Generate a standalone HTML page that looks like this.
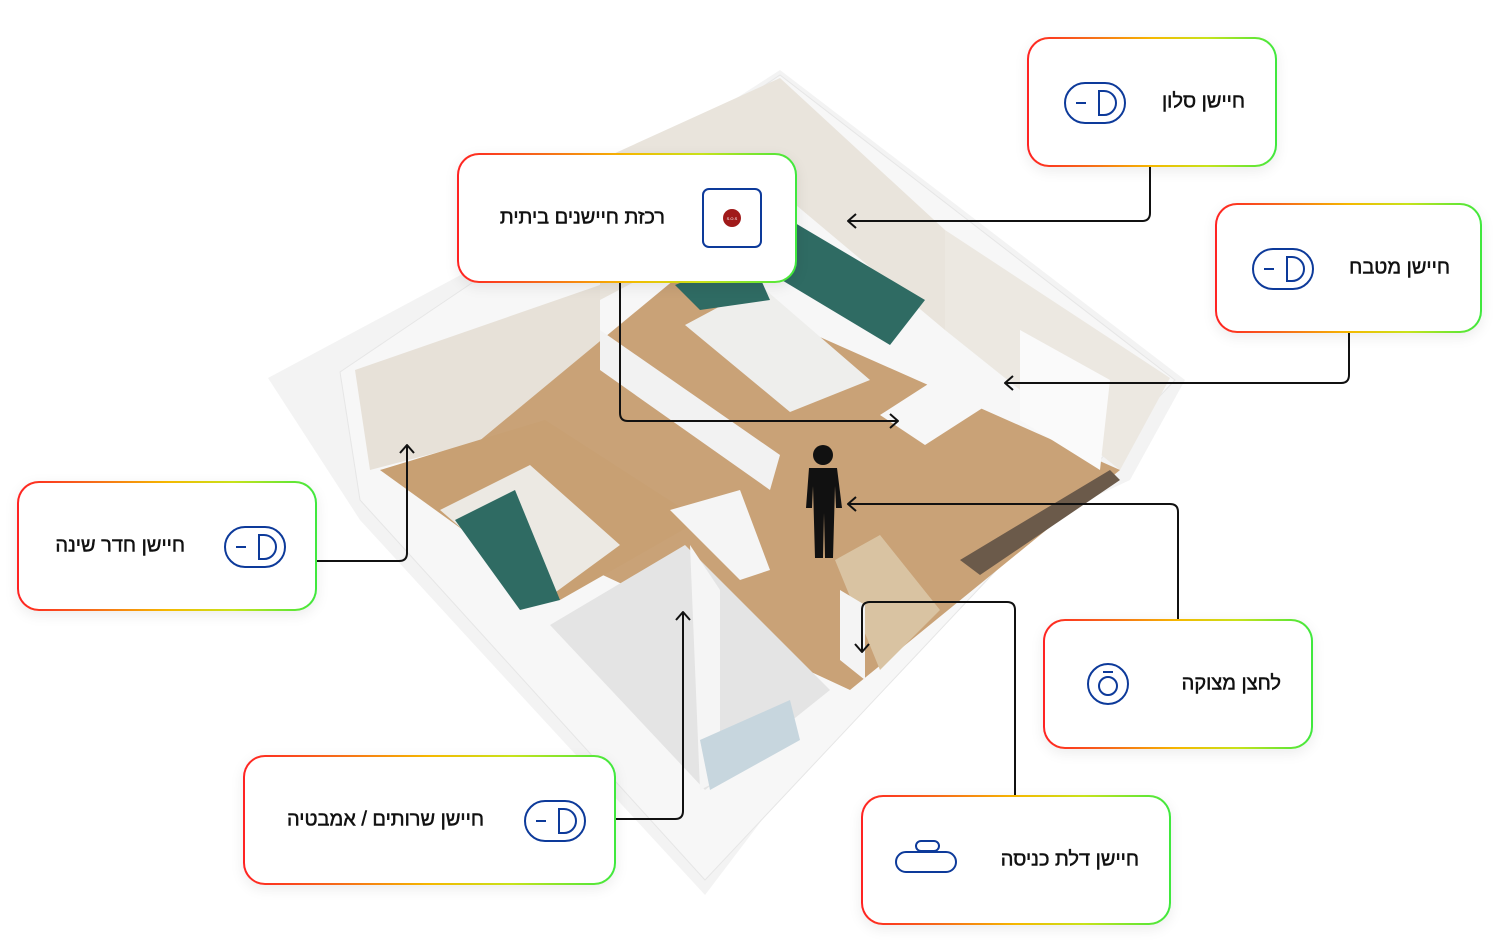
<!DOCTYPE html>
<html><head><meta charset="utf-8"><style>
body{margin:0;width:1500px;height:946px;background:#fff;position:relative;overflow:hidden;font-family:"Liberation Sans","DejaVu Sans",sans-serif}
.card{position:absolute;border-radius:22px;padding:2px;background:linear-gradient(90deg,#f22 0%,#f66a1a 25%,#f5b800 50%,#c8e21a 72%,#3ee83e 100%);box-shadow:0 4px 14px rgba(0,0,0,.08)}
.card .in{width:100%;height:100%;background:#fff;border-radius:20px;position:relative}
.t{position:absolute;font-size:20px;color:#111;direction:rtl;white-space:nowrap;transform:translateY(-50%);-webkit-text-stroke:0.5px #111}
svg{position:absolute;left:0;top:0}
</style></head><body>
<svg width="1500" height="946">
<polygon points="268,378 470,270 780,70 1185,380 1130,480 960,560 705,895 470,640 360,520" fill="#f3f3f3"/>
<polygon points="340,372 780,75 1175,380 705,880 360,500" fill="#f7f7f7" stroke="#e6e6e6"/>
<polygon points="600,160 780,78 945,230 945,330 790,200 600,300" fill="#e9e4dc"/>
<polygon points="945,230 1170,378 1120,470 945,330" fill="#ece8e1"/>
<polygon points="355,370 600,285 600,410 370,470" fill="#e7e1d8"/>
<polygon points="420,490 680,275 1120,470 850,690" fill="#c9a277"/>
<polygon points="380,470 545,420 700,520 560,600" fill="#c8a073"/>
<polygon points="685,325 760,285 870,380 790,412" fill="#eeeeec"/>
<polygon points="790,220 925,300 890,345 765,270" fill="#2f6b63"/>
<polygon points="675,285 750,255 770,300 700,310" fill="#2f6b63"/>
<polygon points="1020,330 1110,380 1100,470 1020,420" fill="#fafafa"/>
<polygon points="960,560 1110,470 1120,480 980,575" fill="#6b5a4a"/>
<polygon points="440,510 530,465 620,545 545,600" fill="#ece9e3"/>
<polygon points="455,520 515,490 560,600 520,610" fill="#2f6b63"/>
<polygon points="600,330 780,455 770,490 600,370" fill="#f2f2f2"/>
<polygon points="670,510 740,490 770,570 740,580" fill="#f5f5f5"/>
<polygon points="550,625 685,545 830,690 705,790" fill="#e4e4e4"/>
<polygon points="690,545 720,590 720,780 700,790" fill="#f5f5f5"/>
<polygon points="700,740 790,700 800,740 710,790" fill="#c7d6de"/>
<polygon points="835,560 880,535 940,610 880,670" fill="#d9c3a2"/>
<polygon points="840,590 865,605 865,680 840,660" fill="#f4f4f4"/>
<polygon points="880,415 950,370 995,400 925,445" fill="#f7f7f7"/>
<circle cx="823" cy="455" r="10" fill="#111"/>
<path d="M809,468 h28 l5,40 h-6 l-1,-22 l-2,72 h-8 l-1,-45 l-1,45 h-8 l-2,-72 l-1,22 h-6 z" fill="#111"/>
<g fill="none" stroke="#111" stroke-width="2" stroke-linejoin="round">
<path d="M1150,167 V213 q0,8 -8,8 H848"/><path d="M856,214 l-8,7 l8,7"/>
<path d="M1349,333 V375 q0,8 -8,8 H1005"/><path d="M1013,376 l-8,7 l8,7"/>
<path d="M620,283 V413 q0,8 8,8 H898"/><path d="M890,414 l8,7 l-8,7"/>
<path d="M317,561 H399 q8,0 8,-8 V445"/><path d="M400,453 l7,-8 l7,8"/>
<path d="M1178,619 V512 q0,-8 -8,-8 H848"/><path d="M856,497 l-8,7 l8,7"/>
<path d="M1015,795 V610 q0,-8 -8,-8 H870 q-8,0 -8,8 V652"/><path d="M855,644 l7,8 l7,-8"/>
<path d="M616,819 H675 q8,0 8,-8 V612"/><path d="M676,620 l7,-8 l7,8"/>
</g>
</svg>

<div class="card" style="left:1027px;top:37px;width:246px;height:126px"><div class="in">
<svg width="246" height="126"><rect x="36" y="44" width="60" height="40" rx="20" fill="none" stroke="#0d3a9a" stroke-width="2"/><line x1="47" y1="64" x2="57" y2="64" stroke="#0d3a9a" stroke-width="2"/><path d="M70,52 h5 a12,12 0 0 1 0,24 h-5 z" fill="none" stroke="#0d3a9a" stroke-width="2"/></svg>
<div class="t" style="right:30px;top:63px">חיישן סלון</div></div></div>

<div class="card" style="left:1215px;top:203px;width:263px;height:126px"><div class="in">
<svg width="263" height="126"><rect x="36" y="44" width="60" height="40" rx="20" fill="none" stroke="#0d3a9a" stroke-width="2"/><line x1="47" y1="64" x2="57" y2="64" stroke="#0d3a9a" stroke-width="2"/><path d="M70,52 h5 a12,12 0 0 1 0,24 h-5 z" fill="none" stroke="#0d3a9a" stroke-width="2"/></svg>
<div class="t" style="right:30px;top:63px">חיישן מטבח</div></div></div>

<div class="card" style="left:457px;top:153px;width:336px;height:126px"><div class="in">
<svg width="336" height="126"><rect x="244" y="34" width="58" height="58" rx="6" fill="none" stroke="#0d3a9a" stroke-width="2"/><circle cx="273" cy="63" r="9" fill="#a01a1a"/><text x="273" y="65" font-size="4" fill="#fff" text-anchor="middle" font-family="Liberation Sans">S.O.S</text></svg>
<div class="t" style="right:130px;top:63px">רכזת חיישנים ביתית</div></div></div>

<div class="card" style="left:17px;top:481px;width:296px;height:126px"><div class="in">
<svg width="296" height="126"><rect x="206" y="44" width="60" height="40" rx="20" fill="none" stroke="#0d3a9a" stroke-width="2"/><line x1="217" y1="64" x2="227" y2="64" stroke="#0d3a9a" stroke-width="2"/><path d="M240,52 h5 a12,12 0 0 1 0,24 h-5 z" fill="none" stroke="#0d3a9a" stroke-width="2"/></svg>
<div class="t" style="right:130px;top:63px">חיישן חדר שינה</div></div></div>

<div class="card" style="left:1043px;top:619px;width:266px;height:126px"><div class="in">
<svg width="266" height="126"><circle cx="63" cy="63" r="20" fill="none" stroke="#0d3a9a" stroke-width="2"/><circle cx="63" cy="65" r="9" fill="none" stroke="#0d3a9a" stroke-width="2"/><line x1="58" y1="51" x2="68" y2="51" stroke="#0d3a9a" stroke-width="2"/></svg>
<div class="t" style="right:30px;top:63px">לחצן מצוקה</div></div></div>

<div class="card" style="left:861px;top:795px;width:306px;height:126px"><div class="in">
<svg width="306" height="126"><rect x="33" y="55" width="60" height="20" rx="10" fill="none" stroke="#0d3a9a" stroke-width="2"/><rect x="53" y="44" width="23" height="10" rx="5" fill="none" stroke="#0d3a9a" stroke-width="2"/></svg>
<div class="t" style="right:30px;top:63px">חיישן דלת כניסה</div></div></div>

<div class="card" style="left:243px;top:755px;width:369px;height:126px"><div class="in">
<svg width="369" height="126"><rect x="280" y="44" width="60" height="40" rx="20" fill="none" stroke="#0d3a9a" stroke-width="2"/><line x1="291" y1="64" x2="301" y2="64" stroke="#0d3a9a" stroke-width="2"/><path d="M314,52 h5 a12,12 0 0 1 0,24 h-5 z" fill="none" stroke="#0d3a9a" stroke-width="2"/></svg>
<div class="t" style="right:130px;top:63px">חיישן שרותים / אמבטיה</div></div></div>
</body></html>
